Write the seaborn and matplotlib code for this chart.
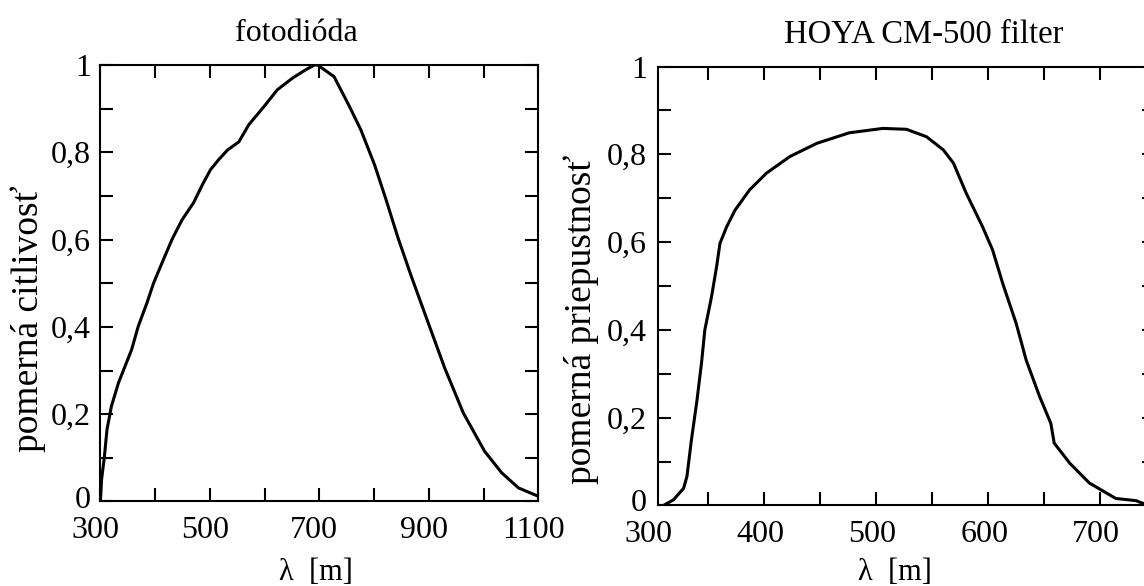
import matplotlib
matplotlib.use('Agg')
import matplotlib.pyplot as plt
import matplotlib.transforms as mtransforms
import seaborn as sns

# fotodioda - relative spectral sensitivity
diode_nm = [300, 302, 307, 312, 320, 333, 345, 357, 369, 385, 397, 415, 431, 449, 470,
            486, 501, 516, 532, 553, 571, 599, 623, 651, 675, 691, 697, 727, 755, 776,
            801, 822, 844, 868, 899, 929, 963, 1002, 1033, 1064, 1100]
diode_resp = [0.0, 0.05, 0.1, 0.165, 0.218, 0.272, 0.31, 0.348, 0.401, 0.455, 0.5,
              0.554, 0.601, 0.645, 0.684, 0.725, 0.76, 0.783, 0.805, 0.824, 0.863,
              0.905, 0.943, 0.97, 0.989, 1.0, 1.0, 0.973, 0.905, 0.851, 0.771, 0.691,
              0.603, 0.516, 0.409, 0.306, 0.203, 0.115, 0.066, 0.031, 0.012]

# HOYA CM-500 filter - relative transmittance
filter_nm = [310, 319, 328, 331, 335, 340, 344, 347, 353, 357.5, 360.5, 366.5, 374, 387,
             402, 423, 447, 476, 506, 527, 545, 560, 569, 580.5, 595, 604, 613, 625,
             634, 646, 656, 659, 673, 690.5, 714, 732, 738, 749]
filter_trans = [0.0, 0.013, 0.039, 0.066, 0.149, 0.24, 0.324, 0.4, 0.476, 0.544, 0.597,
                0.635, 0.673, 0.719, 0.757, 0.795, 0.825, 0.849, 0.859, 0.857, 0.84,
                0.81, 0.78, 0.711, 0.635, 0.582, 0.506, 0.415, 0.331, 0.248, 0.187,
                0.142, 0.096, 0.051, 0.016, 0.011, 0.005, 0.003]

# ticks and their labels
diode_xticks = [300, 400, 500, 600, 700, 800, 900, 1000, 1100]
diode_xlabels = ['300', '', '500', '', '700', '', '900', '', '1100']
filter_xticks = [300, 350, 400, 450, 500, 550, 600, 650, 700]
filter_xlabels = ['300', '', '400', '', '500', '', '600', '', '700']
yticks = [0, 0.1, 0.2, 0.3, 0.4, 0.5, 0.6, 0.7, 0.8, 0.9, 1.0]
ylabels = ['0', '', '0,2', '', '0,4', '', '0,6', '', '0,8', '', '1']

TICK_FS = 23
XPAD = 10.5

sns.set_theme(style='ticks')
plt.rcParams['font.family'] = ['Liberation Serif', 'DejaVu Serif']
plt.rcParams['text.color'] = 'black'
plt.rcParams['axes.labelcolor'] = 'black'

fig = plt.figure(figsize=(11.44, 5.86), dpi=100)
ax1 = fig.add_axes([0.0878, 0.1442, 0.3827, 0.7449])
ax2 = fig.add_axes([0.5754, 0.1374, 0.4342, 0.7491])


def style_axes(ax, xticks, xlabels, xlim, ypad, dx, zero_up):
    ax.set_xlim(*xlim)
    ax.set_ylim(0, 1)
    keep = [(t, l) for t, l in zip(xticks, xlabels) if xlim[0] <= t <= xlim[1]]
    ax.set_xticks([t for t, _ in keep])
    ax.set_xticklabels([l for _, l in keep])
    ax.set_yticks(yticks)
    ax.set_yticklabels(ylabels)
    for s in ax.spines.values():
        s.set_linewidth(1.5)
        s.set_color('black')
        s.set_visible(True)
    ax.tick_params(direction='in', length=9.5, width=1.5, colors='black',
                   top=True, right=True, labelsize=TICK_FS)
    ax.tick_params(axis='x', pad=XPAD)
    ax.tick_params(axis='y', pad=ypad)
    # labels in the original sit a little left of their ticks
    off = mtransforms.ScaledTranslation(dx / 100, 0, fig.dpi_scale_trans)
    for lab in ax.get_xticklabels():
        lab.set_transform(lab.get_transform() + off)
    # the "0" on the y axis sits slightly above its tick
    up = mtransforms.ScaledTranslation(0, zero_up / 100, fig.dpi_scale_trans)
    ylabs = ax.get_yticklabels()
    ylabs[0].set_transform(ylabs[0].get_transform() + up)
    # a labelled wavelength just outside the frame (300 nm on the filter plot)
    trans = mtransforms.blended_transform_factory(ax.transData, ax.transAxes)
    trans = trans + mtransforms.ScaledTranslation(dx / 100, -XPAD / 72, fig.dpi_scale_trans)
    for t, l in zip(xticks, xlabels):
        if l and not (xlim[0] <= t <= xlim[1]):
            ax.text(t, 0, l, transform=trans, ha='center', va='top',
                    fontsize=TICK_FS, color='black', clip_on=False)


# left panel
sns.lineplot(x=diode_nm, y=diode_resp, ax=ax1, color='black', linewidth=2.2)
style_axes(ax1, diode_xticks, diode_xlabels, (300, 1100), 7, -5, 4)
ax1.set_title('fotodióda', fontsize=23, x=0.4466, pad=17)
ax1.set_ylabel('pomerná citlivosť', fontsize=27)
ax1.yaxis.set_label_coords(-0.1245, 0.418)
ax1.set_xlabel('λ  [m]', fontsize=22)
ax1.xaxis.set_label_coords(0.492, -0.129)

# right panel
sns.lineplot(x=filter_nm, y=filter_trans, ax=ax2, color='black', linewidth=2.2)
style_axes(ax2, filter_xticks, filter_xlabels, (305.4, 749), 8, -4, 5)
ax2.set_title('HOYA CM-500 filter', fontsize=23.5, x=0.535, pad=17)
ax2.set_ylabel('pomerná priepustnosť', fontsize=27)
ax2.yaxis.set_label_coords(-0.119, 0.425)
ax2.set_xlabel('λ  [m]', fontsize=22)
ax2.xaxis.set_label_coords(0.4765, -0.12)

fig.savefig('out.png', dpi=100)
